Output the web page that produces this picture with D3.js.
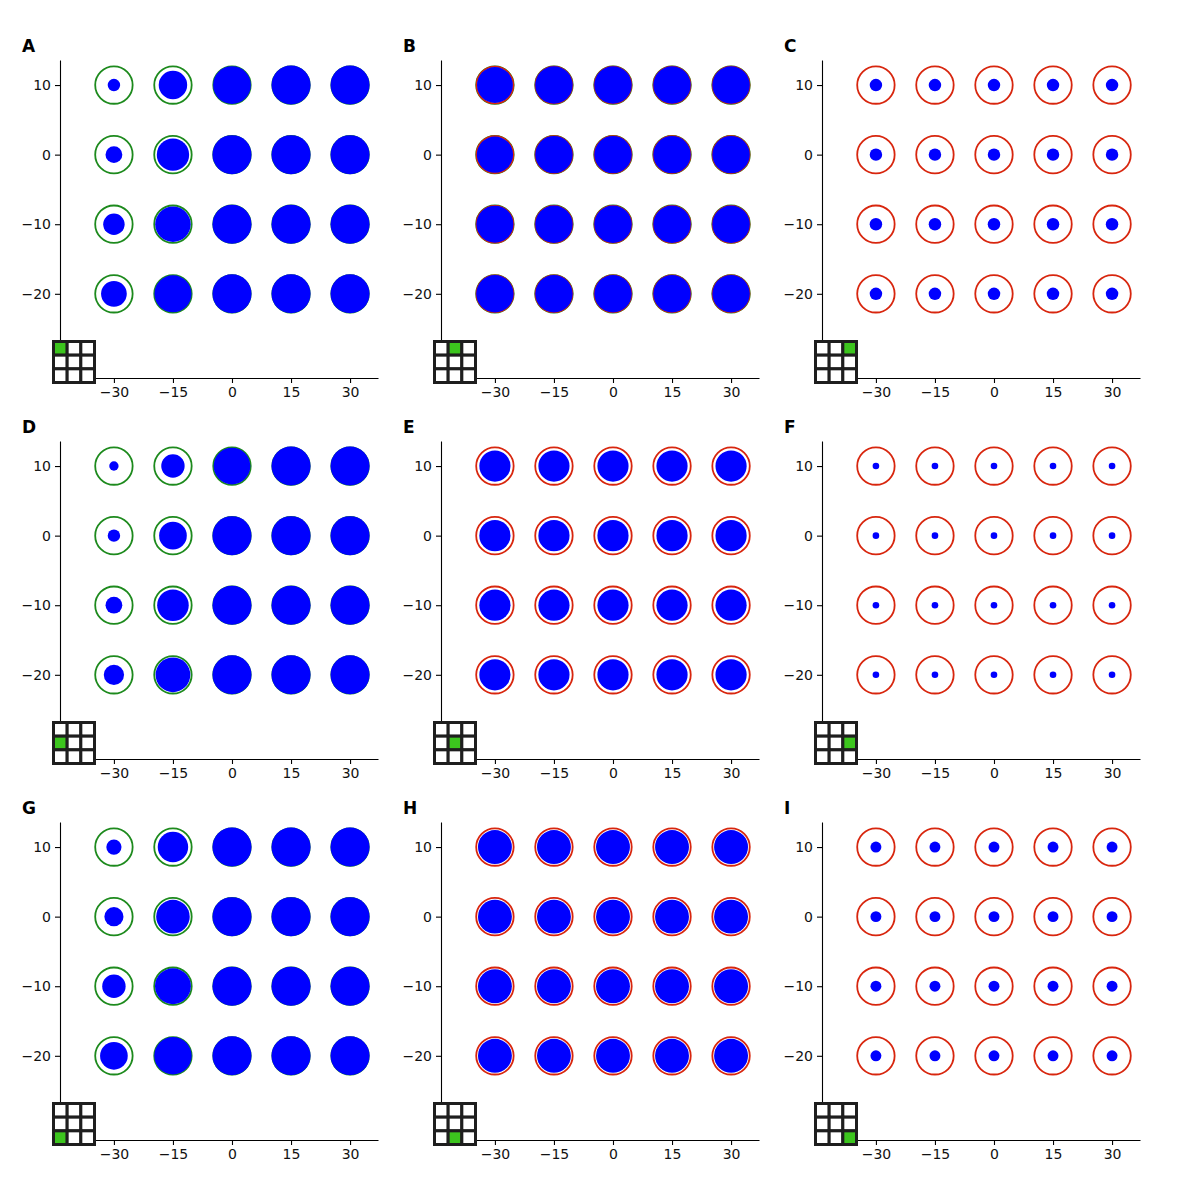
<!DOCTYPE html>
<html>
<head>
<meta charset="utf-8">
<script src="https://cdn.jsdelivr.net/npm/d3@7"></script>
<style>
  body { margin: 0; background: #fff; }
  svg { display: block; font-family: "DejaVu Sans", sans-serif; }
</style>
</head>
<body>
<div id="chart"></div>
<script>
// grid of points shared by every panel
const xValues = [-30, -15, 0, 15, 30];
const yValues = [10, 0, -10, -20];
const xTicks = [-30, -15, 0, 15, 30];
const yTicks = [-20, -10, 0, 10];
const xDomain = [-43.7, 37.1];
const yDomain = [-32.1, 13.6];

const panelLabels = ['A', 'B', 'C', 'D', 'E', 'F', 'G', 'H', 'I'];
// which cell of the 3x3 inset is lit, [row, col]
const insetCells = [[0, 0], [0, 1], [0, 2], [1, 0], [1, 1], [1, 2], [2, 0], [2, 1], [2, 2]];
// ring kinds drawn around each point
const ringKinds = [['green'], ['green', 'red'], ['red'], ['green'], ['red'], ['red'], ['green'], ['red'], ['red']];

// blue dot size, relative to full size (rows = yValues, cols = xValues)
const fillA = [[0.32, 0.73, 0.97, 1, 1], [0.43, 0.83, 1, 1, 1], [0.55, 0.91, 1, 1, 1], [0.66, 0.95, 1, 1, 1]];
const fillB = [[0.92, 0.96, 0.96, 0.96, 0.96], [0.93, 0.96, 0.96, 0.96, 0.96], [0.95, 0.96, 0.96, 0.96, 0.96], [0.96, 0.96, 0.96, 0.96, 0.96]];
const fillC = [[0.32, 0.32, 0.32, 0.32, 0.32], [0.32, 0.32, 0.32, 0.32, 0.32], [0.32, 0.32, 0.32, 0.32, 0.32], [0.32, 0.32, 0.32, 0.32, 0.32]];
const fillD = [[0.24, 0.6, 0.94, 1, 1], [0.32, 0.71, 1, 1, 1], [0.43, 0.81, 1, 1, 1], [0.52, 0.89, 1, 1, 1]];
const fillE = [[0.8, 0.8, 0.8, 0.8, 0.8], [0.8, 0.8, 0.8, 0.8, 0.8], [0.8, 0.8, 0.8, 0.8, 0.8], [0.8, 0.8, 0.8, 0.8, 0.8]];
const fillF = [[0.17, 0.17, 0.17, 0.17, 0.17], [0.17, 0.17, 0.17, 0.17, 0.17], [0.17, 0.17, 0.17, 0.17, 0.17], [0.17, 0.17, 0.17, 0.17, 0.17]];
const fillG = [[0.39, 0.78, 1, 1, 1], [0.49, 0.86, 1, 1, 1], [0.6, 0.92, 1, 1, 1], [0.71, 0.96, 1, 1, 1]];
const fillH = [[0.87, 0.87, 0.87, 0.87, 0.87], [0.87, 0.87, 0.87, 0.87, 0.87], [0.87, 0.87, 0.87, 0.87, 0.87], [0.87, 0.87, 0.87, 0.87, 0.87]];
const fillI = [[0.28, 0.28, 0.28, 0.28, 0.28], [0.28, 0.28, 0.28, 0.28, 0.28], [0.28, 0.28, 0.28, 0.28, 0.28], [0.28, 0.28, 0.28, 0.28, 0.28]];
const fills = [fillA, fillB, fillC, fillD, fillE, fillF, fillG, fillH, fillI];

const ringSize = 0.96;

const W = 1200, H = 1200;
const plotW = 318, plotH = 318;
const step = 381;
const left0 = 60, top0 = 60;

const svg = d3.select('#chart')
  .append('svg')
  .attr('width', W)
  .attr('height', H);

const x = d3.scaleLinear().domain(xDomain).range([0, plotW]);
const y = d3.scaleLinear().domain(yDomain).range([plotH, 0]);
const r = d3.scaleLinear().domain([0, 1]).range([0, 19.5]);
const ringColor = d3.scaleOrdinal().domain(['green', 'red']).range(['#1d8a1d', '#d8260e']);
const cell = d3.scaleBand().domain([0, 1, 2]).range([0, 41]);

panelLabels.forEach((label, p) => {
  const row = Math.floor(p / 3), col = p % 3;
  const g = svg.append('g')
    .attr('transform', `translate(${left0 + col * step},${top0 + row * step})`);

  // Panel letter
  g.append('text')
    .attr('x', -38)
    .attr('y', -8)
    .style('font-family', '"DejaVu Sans", sans-serif')
    .style('font-size', '17px')
    .style('font-weight', 'bold')
    .text(label);

  // Axes
  const xAxis = g.append('g')
    .attr('transform', `translate(0,${plotH})`)
    .call(d3.axisBottom(x).tickValues(xTicks).tickSize(5).tickPadding(4).tickSizeOuter(0));
  const yAxis = g.append('g')
    .call(d3.axisLeft(y).tickValues(yTicks).tickSize(5).tickPadding(4).tickSizeOuter(0));
  [xAxis, yAxis].forEach(a => {
    a.attr('font-family', null).attr('font-size', null);
    a.selectAll('path, line').attr('stroke', '#000').attr('stroke-width', 1.1);
    a.selectAll('text')
      .style('font-family', '"DejaVu Sans", sans-serif')
      .style('font-size', '14px')
      .attr('fill', '#111');
  });

  const pts = [];
  yValues.forEach((yv, i) => xValues.forEach((xv, j) => {
    pts.push({ x: xv, y: yv, f: fills[p][i][j] });
  }));

  // Rings
  ringKinds[p].forEach((kind, k) => {
    g.selectAll(`.ring-${kind}`)
      .data(pts)
      .enter()
      .append('circle')
      .attr('cx', d => x(d.x))
      .attr('cy', d => y(d.y))
      .attr('r', r(ringSize) - k * 0.3)
      .attr('fill', 'none')
      .attr('stroke', ringColor(kind))
      .attr('stroke-width', 1.8);
  });

  // Blue dots
  g.selectAll('.dot')
    .data(pts)
    .enter()
    .append('circle')
    .attr('cx', d => x(d.x))
    .attr('cy', d => y(d.y))
    .attr('r', d => r(d.f))
    .attr('fill', '#0000ff');

  // 3x3 inset
  const inset = g.append('g').attr('transform', `translate(-6.5,${plotH - 36.5})`);
  const cells = [];
  for (let i = 0; i < 3; i++) for (let j = 0; j < 3; j++) cells.push({ i, j });
  inset.selectAll('rect')
    .data(cells)
    .enter()
    .append('rect')
    .attr('x', d => cell(d.j))
    .attr('y', d => cell(d.i))
    .attr('width', cell.bandwidth())
    .attr('height', cell.bandwidth())
    .attr('fill', d => d.i === insetCells[p][0] && d.j === insetCells[p][1] ? '#3cc51e' : '#fff')
    .attr('stroke', '#1e1e1e')
    .attr('stroke-width', 3);
});
</script>
</body>
</html>
